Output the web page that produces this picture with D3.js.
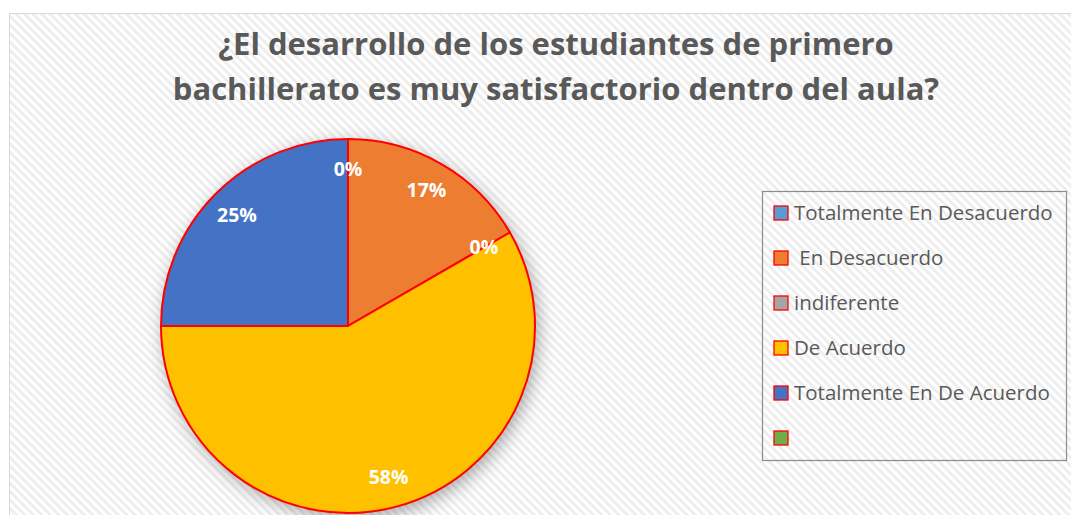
<!DOCTYPE html>
<html><head><meta charset="utf-8">
<script src="https://cdn.jsdelivr.net/npm/d3@7"></script>
<style>html,body{margin:0;padding:0;background:#fff;}svg{display:block;}</style>
</head><body>
<script>
const categories = ["Totalmente En Desacuerdo", " En Desacuerdo", "indiferente", "De Acuerdo", "Totalmente En De Acuerdo", ""];
const values = [0, 2, 0, 7, 3, 0];
const colors = ["#5b9bd5", "#ed7d31", "#a5a5a5", "#ffc000", "#4472c4", "#70ad47"];
const labeled = [true, true, true, true, true, false];
const titleLines = ["¿El desarrollo de los estudiantes de primero", "bachillerato es muy satisfactorio dentro del aula?"];

const W = 1071, H = 515;
const svg = d3.select("body").append("svg").attr("width", W).attr("height", H);
const defs = svg.append("defs");
const pat = defs.append("pattern").attr("id", "hatch").attr("patternUnits", "userSpaceOnUse")
  .attr("width", 6).attr("height", 6).attr("patternTransform", "rotate(-45)");
pat.append("rect").attr("width", 6).attr("height", 6).attr("fill", "#ffffff");
pat.append("rect").attr("width", 3).attr("height", 6).attr("fill", "#eeeeee");
const f = defs.append("filter").attr("id", "shadow").attr("x", "-30%").attr("y", "-30%").attr("width", "160%").attr("height", "160%");
f.append("feGaussianBlur").attr("in", "SourceAlpha").attr("stdDeviation", 9).attr("result", "b");
f.append("feOffset").attr("in", "b").attr("dx", 3).attr("dy", 5).attr("result", "o");
f.append("feComponentTransfer").attr("in", "o").attr("result", "s").append("feFuncA").attr("type", "linear").attr("slope", 0.35);
const m = f.append("feMerge"); m.append("feMergeNode").attr("in", "s"); m.append("feMergeNode").attr("in", "SourceGraphic");

// chart area
svg.append("rect").attr("x", 9.5).attr("y", 13.5).attr("width", W + 20).attr("height", H + 20)
  .attr("fill", "url(#hatch)").attr("stroke", "#d9d9d9").attr("stroke-width", 1);

// title
svg.append("text").attr("x", 556).attr("text-anchor", "middle")
  .attr("font-family", "'Open Sans', sans-serif").attr("font-weight", "bold").attr("font-size", 31)
  .attr("fill", "#595959")
  .selectAll("tspan").data(titleLines).join("tspan")
  .attr("x", 556).attr("y", (d, i) => 55 + i * 45).text(d => d);

// pie
const cx = 348, cy = 326, R = 187;
const pie = d3.pie().sort(null).value(d => d)(values);
const arc = d3.arc().innerRadius(0).outerRadius(R);
const g = svg.append("g").attr("transform", `translate(${cx},${cy})`);
g.append("circle").attr("r", R).attr("fill", "#fff").attr("filter", "url(#shadow)");
g.selectAll("path").data(pie).join("path")
  .attr("d", arc).attr("fill", (d, i) => colors[i])
  .attr("stroke", "#ff0000").attr("stroke-width", 2).attr("stroke-linejoin", "round");
const lab = d3.arc().innerRadius(157).outerRadius(157);
const total = d3.sum(values);
g.selectAll("text.lab").data(pie.filter((d, i) => labeled[i])).join("text")
  .attr("class", "lab")
  .attr("x", d => lab.centroid(d)[0]).attr("y", d => lab.centroid(d)[1])
  .attr("dy", "0.35em").attr("text-anchor", "middle")
  .attr("font-family", "'Open Sans', sans-serif").attr("font-weight", "bold").attr("font-size", 19.5)
  .attr("fill", "#ffffff")
  .text(d => Math.round(d.data / total * 100) + "%");

// legend
const lg = svg.append("g");
lg.append("rect").attr("x", 762.5).attr("y", 191.5).attr("width", 304).attr("height", 269)
  .attr("fill", "none").attr("stroke", "#8c8c8c").attr("stroke-width", 1.2);
const rows = lg.selectAll("g.row").data(categories).join("g").attr("class", "row")
  .attr("transform", (d, i) => `translate(774, ${213 + i * 45})`);
rows.append("rect").attr("x", 0).attr("y", -7).attr("width", 14).attr("height", 14)
  .attr("fill", (d, i) => colors[i]).attr("stroke", "#ff0000").attr("stroke-width", 1.3);
rows.append("text").attr("x", 20).attr("y", 0).attr("dy", "0.35em")
  .attr("font-family", "'Open Sans', sans-serif").attr("font-size", 20.5).attr("fill", "#595959")
  .attr("xml:space", "preserve").style("white-space", "pre")
  .text(d => d);
</script>
</body></html>
